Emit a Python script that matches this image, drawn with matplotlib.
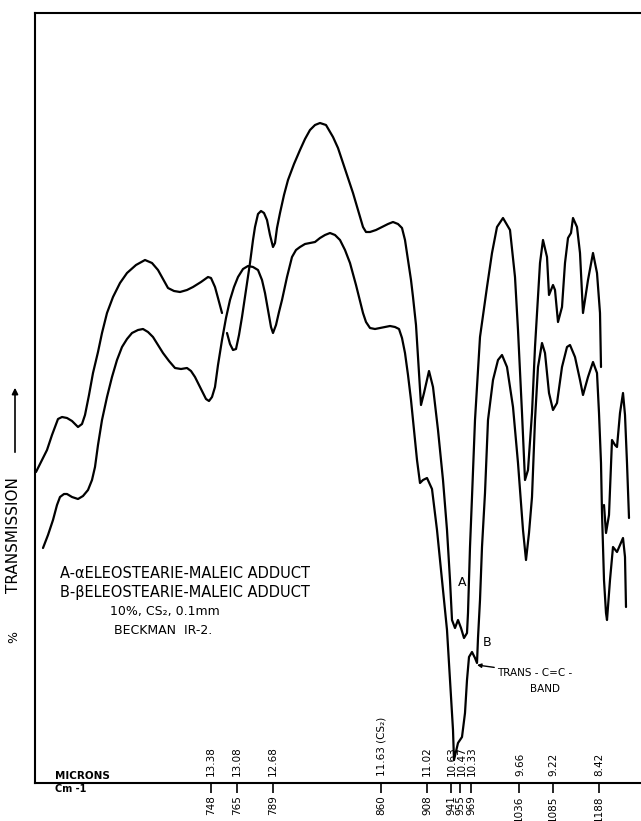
import numpy as np
import matplotlib
matplotlib.use("Agg")
from matplotlib import pyplot as plt

W, H = 641, 821
BASE = 783          # pixel row of the bottom axis line
TOP = 13            # pixel row of the top frame line
LEFT = 35           # pixel column of the left frame line

# digitised traces: chart position across, pen row (pixels down from top)
# curve A, alpha adduct (pen lifted twice)
a1_x = [36, 41, 47, 52, 58, 62, 67, 72, 78, 82, 85, 89, 93, 98, 102, 107, 113, 120, 127, 136,
        145, 152, 158, 163, 168, 174, 180, 187, 193, 201, 208, 211, 215, 218, 222]
a1_y = [472, 462, 450, 435, 419, 417, 418, 421, 427, 424, 415, 395, 373, 352, 333, 313, 297, 283, 273, 265,
        260, 263, 270, 279, 288, 291, 292, 290, 287, 282, 277, 278, 287, 298, 313]
a2_x = [227, 230, 233, 236, 239, 242, 246, 250, 253, 255, 258, 261, 264, 267, 270, 273, 275, 277, 280, 284,
        288, 294, 300, 305, 310, 315, 320, 326, 333, 338, 343, 348, 353, 358, 363, 366, 370, 376, 382, 388,
        393, 398, 402, 405, 408, 411, 413, 416, 418, 421, 424, 429, 433, 438, 443, 447, 450, 452, 455, 458,
        461, 464, 467, 468, 469, 470, 472, 475, 480, 487, 492, 497, 503, 510, 515, 518, 522, 525, 528, 532,
        535, 540, 543, 547, 549, 553, 555, 558, 562, 565, 568, 571, 573, 577, 580, 583, 588, 593, 597, 600, 601]
a2_y = [333, 344, 350, 349, 335, 317, 290, 263, 240, 227, 214, 211, 213, 220, 235, 247, 243, 228, 213, 195,
        180, 164, 150, 139, 130, 125, 123, 125, 137, 148, 163, 178, 193, 210, 227, 232, 232, 230, 227, 224,
        222, 224, 228, 240, 260, 280, 297, 325, 357, 405, 393, 371, 387, 430, 480, 530, 580, 620, 628, 620,
        628, 638, 633, 613, 580, 547, 497, 420, 337, 287, 253, 227, 218, 230, 277, 330, 413, 480, 470, 413,
        347, 263, 240, 257, 295, 285, 290, 322, 307, 263, 238, 233, 218, 227, 253, 313, 280, 253, 273, 313, 367]
a3_x = [604, 606, 609, 612, 615, 617, 620, 623, 625, 627, 629]
a3_y = [505, 533, 515, 440, 445, 447, 413, 393, 415, 463, 518]

# curve B, beta adduct
b_x = [43, 48, 53, 57, 60, 64, 67, 72, 78, 83, 88, 92, 95, 98, 102, 107, 112, 117, 122, 127,
       132, 138, 143, 148, 153, 158, 163, 169, 175, 181, 187, 191, 195, 199, 203, 206, 209, 212, 215, 218,
       222, 226, 230, 234, 238, 243, 248, 253, 258, 262, 265, 268, 271, 273, 276, 279, 282, 287, 292, 296,
       300, 305, 310, 315, 320, 325, 330, 335, 340, 345, 350, 356, 363, 366, 370, 375, 380, 385, 390, 395,
       399, 402, 405, 408, 411, 414, 417, 420, 423, 427, 432, 437, 442, 447, 450, 453, 454, 458, 462, 465,
       467, 469, 472, 475, 477, 478, 480, 482, 485, 488, 493, 498, 502, 507, 513, 518, 523, 526, 529, 532,
       535, 538, 542, 545, 549, 553, 557, 562, 567, 570, 575, 580, 583, 588, 593, 597, 599, 601, 602, 604,
       606, 607, 610, 613, 617, 620, 623, 625, 626]
b_y = [548, 535, 520, 505, 497, 494, 494, 497, 499, 496, 490, 480, 467, 445, 420, 397, 377, 360, 347, 339,
       333, 330, 329, 332, 337, 345, 353, 361, 368, 369, 368, 371, 377, 385, 393, 399, 401, 397, 387, 365,
       340, 318, 300, 287, 277, 269, 266, 267, 270, 280, 293, 310, 327, 333, 325, 312, 300, 277, 257, 250,
       247, 244, 243, 242, 238, 235, 233, 235, 240, 250, 263, 285, 313, 322, 328, 329, 328, 327, 326, 327,
       329, 338, 353, 375, 400, 430, 460, 483, 480, 478, 489, 530, 580, 630, 680, 730, 760, 743, 737, 713,
       680, 657, 652, 658, 663, 638, 600, 547, 493, 420, 380, 360, 355, 367, 407, 463, 530, 560, 533, 497,
       420, 367, 343, 353, 393, 410, 403, 367, 347, 345, 357, 380, 395, 377, 362, 373, 413, 463, 513, 580,
       613, 620, 580, 547, 552, 545, 538, 557, 607]

# wavelength scale under the chart
tick_pos = [211, 237, 273, 381, 427, 451, 460, 471, 519, 553, 599]
wavenumbers = ["748", "765", "789", "860", "908", "941", "955", "969", "1036", "1085", "1188"]
micron_pos = [211, 237, 273, 381, 427, 452, 462, 472, 520, 553, 599]
microns = ["13.38", "13.08", "12.68", "11.63 (CS₂)", "11.02", "10.63", "10.47", "10.33", "9.66", "9.22", "8.42"]


def h(rows):
    # pen row -> height above the base line
    return BASE - np.array(rows, dtype=float)


fig = plt.figure(figsize=(W / 100, H / 100), dpi=100)
ax = fig.add_axes([LEFT / W, 1 - BASE / H, 1 - LEFT / W, (BASE - TOP) / H])
ax.set_xlim(LEFT, W)
ax.set_ylim(0, BASE - TOP)

lw = 1.6
for xs, ys in [(a1_x, a1_y), (a2_x, a2_y), (a3_x, a3_y), (b_x, b_y)]:
    ax.plot(xs, h(ys), color="black", lw=lw, solid_capstyle="round", solid_joinstyle="round")

for s in ["top", "left", "bottom"]:
    ax.spines[s].set_linewidth(1.5)
ax.spines["right"].set_visible(False)
ax.set_yticks([])
ax.set_xticks(tick_pos)
ax.set_xticklabels(wavenumbers, rotation=90, fontsize=7.5)
ax.tick_params(axis="x", direction="out", length=7, width=1.2, pad=2)

for xp, lab in zip(micron_pos, microns):
    ax.text(xp, 7, lab, rotation=90, ha="center", va="bottom", fontsize=7.5)

# sample description
ax.text(60, BASE - 574, "A-αELEOSTEARIE-MALEIC ADDUCT", fontsize=10.5, va="center", ha="left")
ax.text(60, BASE - 593, "B-βELEOSTEARIE-MALEIC ADDUCT", fontsize=10.5, va="center", ha="left")
ax.text(165, BASE - 612, "10%, CS₂, 0.1mm", fontsize=9, va="center", ha="center")
ax.text(163, BASE - 631, "BECKMAN  IR-2.", fontsize=9, va="center", ha="center")

ax.text(462, BASE - 583, "A", fontsize=9, ha="center", va="center")
ax.text(487, BASE - 642, "B", fontsize=9, ha="center", va="center")
ax.annotate("TRANS - C=C -", xy=(477, BASE - 665), xytext=(497, BASE - 673),
            fontsize=7.5, ha="left", va="center",
            arrowprops=dict(arrowstyle="-|>", color="black", lw=1.0, mutation_scale=6,
                            shrinkA=0, shrinkB=0))
ax.text(545, BASE - 689, "BAND", fontsize=7.5, ha="center", va="center")

ax.text(55, 7, "MICRONS", fontsize=7.5, ha="left", va="center", fontweight="bold")
fig.text(55 / W, 1 - 789 / H, "Cm -1", fontsize=7, ha="left", va="center", fontweight="bold")

# y axis caption with the upward arrow
fig.text(14 / W, 1 - 637 / H, "%", fontsize=9, rotation=90, ha="center", va="center")
fig.text(14 / W, 1 - 535 / H, "TRANSMISSION", fontsize=11, rotation=90, ha="center", va="center")
fig.add_artist(matplotlib.patches.FancyArrowPatch((15 / W, 1 - 455 / H), (15 / W, 1 - 385 / H),
                                                  transform=fig.transFigure, arrowstyle="-|>",
                                                  mutation_scale=9, color="black", lw=1.2))

fig.savefig("out.png", dpi=100)
